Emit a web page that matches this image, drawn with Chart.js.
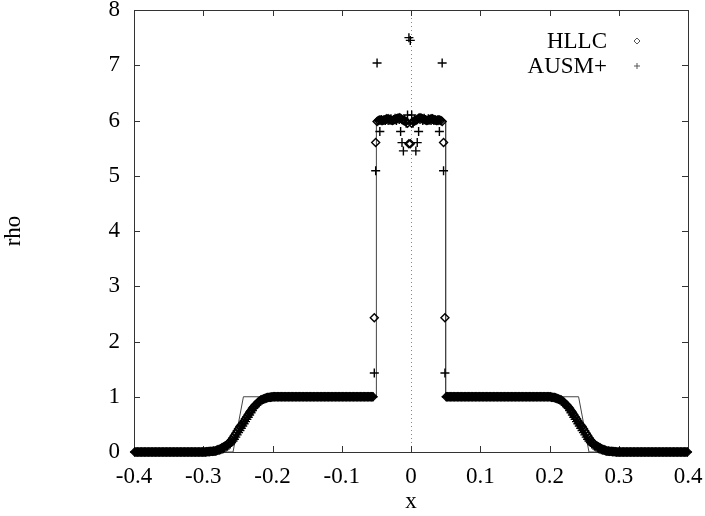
<!DOCTYPE html>
<html>
<head>
<meta charset="utf-8">
<script src="https://cdn.jsdelivr.net/npm/chart.js@4/dist/chart.umd.min.js"></script>
<style>
  html, body { margin: 0; padding: 0; background: #fff; }
  #wrap { width: 705px; height: 516px; }
</style>
</head>
<body>
<div id="wrap"><canvas id="rhoChart" width="705" height="516"></canvas></div>
<script>
// cell centres (dx = 0.002)
var xLeft = [
  -0.399, -0.397, -0.395, -0.393, -0.391, -0.389, -0.387, -0.385, -0.383, -0.381,
  -0.379, -0.377, -0.375, -0.373, -0.371, -0.369, -0.367, -0.365, -0.363, -0.361,
  -0.359, -0.357, -0.355, -0.353, -0.351, -0.349, -0.347, -0.345, -0.343, -0.341,
  -0.339, -0.337, -0.335, -0.333, -0.331, -0.329, -0.327, -0.325, -0.323, -0.321,
  -0.319, -0.317, -0.315, -0.313, -0.311, -0.309, -0.307, -0.305, -0.303, -0.301,
  -0.299, -0.297, -0.295, -0.293, -0.291, -0.289, -0.287, -0.285, -0.283, -0.281,
  -0.279, -0.277, -0.275, -0.273, -0.271, -0.269, -0.267, -0.265, -0.263, -0.261,
  -0.259, -0.257, -0.255, -0.253, -0.251, -0.249, -0.247, -0.245, -0.243, -0.241,
  -0.239, -0.237, -0.235, -0.233, -0.231, -0.229, -0.227, -0.225, -0.223, -0.221,
  -0.219, -0.217, -0.215, -0.213, -0.211, -0.209, -0.207, -0.205, -0.203, -0.201,
  -0.199, -0.197, -0.195, -0.193, -0.191, -0.189, -0.187, -0.185, -0.183, -0.181,
  -0.179, -0.177, -0.175, -0.173, -0.171, -0.169, -0.167, -0.165, -0.163, -0.161,
  -0.159, -0.157, -0.155, -0.153, -0.151, -0.149, -0.147, -0.145, -0.143, -0.141,
  -0.139, -0.137, -0.135, -0.133, -0.131, -0.129, -0.127, -0.125, -0.123, -0.121,
  -0.119, -0.117, -0.115, -0.113, -0.111, -0.109, -0.107, -0.105, -0.103, -0.101,
  -0.099, -0.097, -0.095, -0.093, -0.091, -0.089, -0.087, -0.085, -0.083, -0.081,
  -0.079, -0.077, -0.075, -0.073, -0.071, -0.069, -0.067, -0.065, -0.063, -0.061,
  -0.059
];
var xCore = [
  -0.057, -0.055, -0.053, -0.051, -0.049, -0.047, -0.045, -0.043, -0.041, -0.039,
  -0.037, -0.035, -0.033, -0.031, -0.029, -0.027, -0.025, -0.023, -0.021, -0.019,
  -0.017, -0.015, -0.013, -0.011, -0.009, -0.007, -0.005, -0.003, -0.001, 0.001,
  0.003, 0.005, 0.007, 0.009, 0.011, 0.013, 0.015, 0.017, 0.019, 0.021,
  0.023, 0.025, 0.027, 0.029, 0.031, 0.033, 0.035, 0.037, 0.039, 0.041,
  0.043, 0.045, 0.047, 0.049, 0.051, 0.053, 0.055, 0.057
];
var xRight = [
  0.059, 0.061, 0.063, 0.065, 0.067, 0.069, 0.071, 0.073, 0.075, 0.077,
  0.079, 0.081, 0.083, 0.085, 0.087, 0.089, 0.091, 0.093, 0.095, 0.097,
  0.099, 0.101, 0.103, 0.105, 0.107, 0.109, 0.111, 0.113, 0.115, 0.117,
  0.119, 0.121, 0.123, 0.125, 0.127, 0.129, 0.131, 0.133, 0.135, 0.137,
  0.139, 0.141, 0.143, 0.145, 0.147, 0.149, 0.151, 0.153, 0.155, 0.157,
  0.159, 0.161, 0.163, 0.165, 0.167, 0.169, 0.171, 0.173, 0.175, 0.177,
  0.179, 0.181, 0.183, 0.185, 0.187, 0.189, 0.191, 0.193, 0.195, 0.197,
  0.199, 0.201, 0.203, 0.205, 0.207, 0.209, 0.211, 0.213, 0.215, 0.217,
  0.219, 0.221, 0.223, 0.225, 0.227, 0.229, 0.231, 0.233, 0.235, 0.237,
  0.239, 0.241, 0.243, 0.245, 0.247, 0.249, 0.251, 0.253, 0.255, 0.257,
  0.259, 0.261, 0.263, 0.265, 0.267, 0.269, 0.271, 0.273, 0.275, 0.277,
  0.279, 0.281, 0.283, 0.285, 0.287, 0.289, 0.291, 0.293, 0.295, 0.297,
  0.299, 0.301, 0.303, 0.305, 0.307, 0.309, 0.311, 0.313, 0.315, 0.317,
  0.319, 0.321, 0.323, 0.325, 0.327, 0.329, 0.331, 0.333, 0.335, 0.337,
  0.339, 0.341, 0.343, 0.345, 0.347, 0.349, 0.351, 0.353, 0.355, 0.357,
  0.359, 0.361, 0.363, 0.365, 0.367, 0.369, 0.371, 0.373, 0.375, 0.377,
  0.379, 0.381, 0.383, 0.385, 0.387, 0.389, 0.391, 0.393, 0.395, 0.397,
  0.399
];

// HLLC density
var hllcLeft = [
  0, 0, 0, 0, 0, 0, 0, 0, 0, 0,
  0, 0, 0, 0, 0, 0, 0, 0, 0, 0,
  0, 0, 0, 0, 0, 0, 0, 0, 0, 0,
  0, 0, 0, 0, 0, 0, 0, 0, 0, 0,
  0, 0, 0, 0, 0, 0, 0, 0, 0, 0,
  0, 0, 0.005, 0.007, 0.01, 0.012, 0.015, 0.018, 0.02, 0.03,
  0.04, 0.05, 0.06, 0.075, 0.09, 0.105, 0.12, 0.14, 0.16, 0.19,
  0.22, 0.26, 0.30, 0.34, 0.38, 0.42, 0.46, 0.49, 0.52, 0.56,
  0.60, 0.64, 0.68, 0.72, 0.75, 0.79, 0.82, 0.85, 0.87, 0.90,
  0.92, 0.94, 0.95, 0.96, 0.97, 0.98, 0.985, 0.99, 0.99, 0.995,
  1, 1, 1, 1, 1, 1, 1, 1, 1, 1,
  1, 1, 1, 1, 1, 1, 1, 1, 1, 1,
  1, 1, 1, 1, 1, 1, 1, 1, 1, 1,
  1, 1, 1, 1, 1, 1, 1, 1, 1, 1,
  1, 1, 1, 1, 1, 1, 1, 1, 1, 1,
  1, 1, 1, 1, 1, 1, 1, 1, 1, 1,
  1, 1, 1, 1, 1, 1, 1, 1, 1, 1,
  1
];
var hllcCore = [
  1, 1, 2.43, 5.6, 5.98, 6.0, 6.01, 6.0, 6.0, 6.01,
  6.02, 6.03, 6.03, 6.02, 6.01, 6.0, 6.01, 6.02, 6.03, 6.04,
  6.05, 6.04, 6.02, 6.0, 5.99, 5.98, 5.95, 5.58, 5.58, 5.95,
  5.98, 5.99, 6.0, 6.02, 6.04, 6.05, 6.04, 6.03, 6.02, 6.01,
  6.0, 6.01, 6.02, 6.03, 6.03, 6.02, 6.01, 6.0, 6.0, 6.01,
  6.0, 5.98, 5.6, 2.43, 1, 1, 1, 1
];
var hllcRight = [
  1, 1, 1, 1, 1, 1, 1, 1, 1, 1,
  1, 1, 1, 1, 1, 1, 1, 1, 1, 1,
  1, 1, 1, 1, 1, 1, 1, 1, 1, 1,
  1, 1, 1, 1, 1, 1, 1, 1, 1, 1,
  1, 1, 1, 1, 1, 1, 1, 1, 1, 1,
  1, 1, 1, 1, 1, 1, 1, 1, 1, 1,
  1, 1, 1, 1, 1, 1, 1, 1, 1, 1,
  1, 1, 0.99, 0.99, 0.985, 0.98, 0.97, 0.96, 0.95, 0.94,
  0.92, 0.90, 0.87, 0.85, 0.82, 0.79, 0.75, 0.72, 0.68, 0.64,
  0.60, 0.56, 0.52, 0.49, 0.46, 0.42, 0.38, 0.34, 0.30, 0.26,
  0.22, 0.19, 0.16, 0.14, 0.12, 0.105, 0.09, 0.075, 0.06, 0.05,
  0.04, 0.03, 0.02, 0.018, 0.015, 0.012, 0.01, 0.007, 0.005, 0,
  0, 0, 0, 0, 0, 0, 0, 0, 0, 0,
  0, 0, 0, 0, 0, 0, 0, 0, 0, 0,
  0, 0, 0, 0, 0, 0, 0, 0, 0, 0,
  0, 0, 0, 0, 0, 0, 0, 0, 0, 0,
  0, 0, 0, 0, 0, 0, 0, 0, 0, 0,
  0
];

// AUSM+ density
var ausmLeft = [
  0, 0, 0, 0, 0, 0, 0, 0, 0, 0,
  0, 0, 0, 0, 0, 0, 0, 0, 0, 0,
  0, 0, 0, 0, 0, 0, 0, 0, 0, 0,
  0, 0, 0, 0, 0, 0, 0, 0, 0, 0,
  0, 0, 0, 0, 0, 0, 0, 0, 0, 0,
  0, 0, 0.003, 0.005, 0.006, 0.008, 0.01, 0.012, 0.015, 0.02,
  0.025, 0.032, 0.04, 0.05, 0.06, 0.075, 0.09, 0.105, 0.12, 0.145,
  0.17, 0.20, 0.23, 0.27, 0.31, 0.35, 0.39, 0.43, 0.47, 0.51,
  0.55, 0.59, 0.63, 0.67, 0.71, 0.75, 0.79, 0.82, 0.85, 0.88,
  0.9, 0.92, 0.94, 0.955, 0.965, 0.975, 0.98, 0.985, 0.99, 0.995,
  1, 1, 1, 1, 1, 1, 1, 1, 1, 1,
  1, 1, 1, 1, 1, 1, 1, 1, 1, 1,
  1, 1, 1, 1, 1, 1, 1, 1, 1, 1,
  1, 1, 1, 1, 1, 1, 1, 1, 1, 1,
  1, 1, 1, 1, 1, 1, 1, 1, 1, 1,
  1, 1, 1, 1, 1, 1, 1, 1, 1, 1,
  1, 1, 1, 1, 1, 1, 1, 1, 1, 1,
  1
];
var ausmCore = [
  1, 1, 1.43, 5.09, 7.04, 6.0, 5.8, 6.02, 6.0, 6.01,
  6.0, 6.02, 6.0, 6.01, 6.03, 6.0, 6.02, 6.04, 6.0, 6.03,
  6.02, 5.8, 5.6, 5.45, 6.02, 5.95, 6.1, 7.5, 7.45, 6.1,
  5.95, 6.02, 5.45, 5.6, 5.8, 6.02, 6.03, 6.0, 6.04, 6.02,
  6.0, 6.03, 6.01, 6.0, 6.02, 6.0, 6.01, 6.0, 6.02, 5.8,
  6.0, 7.04, 5.09, 1.43, 1, 1, 1, 1
];
var ausmRight = [
  1, 1, 1, 1, 1, 1, 1, 1, 1, 1,
  1, 1, 1, 1, 1, 1, 1, 1, 1, 1,
  1, 1, 1, 1, 1, 1, 1, 1, 1, 1,
  1, 1, 1, 1, 1, 1, 1, 1, 1, 1,
  1, 1, 1, 1, 1, 1, 1, 1, 1, 1,
  1, 1, 1, 1, 1, 1, 1, 1, 1, 1,
  1, 1, 1, 1, 1, 1, 1, 1, 1, 1,
  1, 1, 0.99, 0.985, 0.98, 0.975, 0.965, 0.955, 0.94, 0.92,
  0.9, 0.88, 0.85, 0.82, 0.79, 0.75, 0.71, 0.67, 0.63, 0.59,
  0.55, 0.51, 0.47, 0.43, 0.39, 0.35, 0.31, 0.27, 0.23, 0.20,
  0.17, 0.145, 0.12, 0.105, 0.09, 0.075, 0.06, 0.05, 0.04, 0.032,
  0.025, 0.02, 0.015, 0.012, 0.01, 0.008, 0.006, 0.005, 0.003, 0,
  0, 0, 0, 0, 0, 0, 0, 0, 0, 0,
  0, 0, 0, 0, 0, 0, 0, 0, 0, 0,
  0, 0, 0, 0, 0, 0, 0, 0, 0, 0,
  0, 0, 0, 0, 0, 0, 0, 0, 0, 0,
  0, 0, 0, 0, 0, 0, 0, 0, 0, 0,
  0
];

// exact solution (solid line)
var exactX   = [-0.4, -0.257, -0.242, -0.05, -0.05, 0.05, 0.05, 0.242, 0.257, 0.4];
var exactRho = [0, 0, 1, 1, 6, 6, 1, 1, 0, 0];

var xs = xLeft.concat(xCore, xRight);
var hllc = hllcLeft.concat(hllcCore, hllcRight);
var ausm = ausmLeft.concat(ausmCore, ausmRight);

function pts(xa, ya) {
  return xa.map(function (x, i) { return { x: x, y: ya[i] }; });
}

var INK = '#000';
var FONT = { family: "'Liberation Serif', 'Times New Roman', serif", size: 23 };

var gnuplotFrame = {
  id: 'gnuplotFrame',
  beforeDatasetsDraw: function (chart) {
    var ctx = chart.ctx, a = chart.chartArea;
    var sx = chart.scales.x, sy = chart.scales.y;
    function seg(x1, y1, x2, y2) { ctx.beginPath(); ctx.moveTo(x1, y1); ctx.lineTo(x2, y2); ctx.stroke(); }
    ctx.save();
    ctx.lineWidth = 1;
    // dotted zero axis
    var x0 = Math.round(sx.getPixelForValue(0)) + 0.5;
    ctx.strokeStyle = '#888';
    ctx.setLineDash([1, 3]);
    seg(x0, a.top, x0, a.bottom);
    ctx.setLineDash([]);
    // border
    ctx.strokeStyle = '#333';
    ctx.strokeRect(a.left + 0.5, a.top + 0.5, a.right - a.left, a.bottom - a.top);
    // inward ticks on all four sides
    sx.ticks.forEach(function (t) {
      var p = Math.round(sx.getPixelForValue(t.value)) + 0.5;
      seg(p, a.bottom, p, a.bottom - 6);
      seg(p, a.top, p, a.top + 6);
    });
    sy.ticks.forEach(function (t) {
      var p = Math.round(sy.getPixelForValue(t.value)) + 0.5;
      seg(a.left, p, a.left + 6, p);
      seg(a.right, p, a.right - 6, p);
    });
    ctx.restore();
  },
  afterDraw: function (chart) {
    // gnuplot style key: text right-aligned, symbol to its right
    var ctx = chart.ctx;
    var items = chart.data.datasets.filter(function (d) { return d.inKey; });
    ctx.save();
    ctx.font = FONT.size + 'px ' + FONT.family;
    ctx.textAlign = 'right';
    ctx.textBaseline = 'alphabetic';
    items.forEach(function (d, i) {
      var cy = 41 + 25 * i;
      ctx.fillStyle = '#000';
      ctx.fillText(d.label, 607, cy + 7);
      ctx.strokeStyle = '#555';
      ctx.lineWidth = 1;
      ctx.fillStyle = 'rgba(0,0,0,0)';
      Chart.helpers.drawPoint(ctx, { pointStyle: d.pointStyle, radius: 3, borderWidth: 1, rotation: 0 }, 637, cy);
    });
    ctx.restore();
  }
};

var rhoChart = new Chart(document.getElementById('rhoChart'), {
  type: 'scatter',
  data: {
    datasets: [
      {
        label: 'HLLC',
        inKey: true,
        data: pts(xs, hllc),
        showLine: false,
        pointStyle: 'rectRot',
        pointRadius: 4,
        pointHoverRadius: 4,
        borderWidth: 1.4,
        borderColor: INK,
        backgroundColor: 'rgba(0,0,0,0)',
        clip: false
      },
      {
        label: 'AUSM+',
        inKey: true,
        data: pts(xs, ausm),
        showLine: false,
        pointStyle: 'cross',
        pointRadius: 4.5,
        pointHoverRadius: 4.5,
        borderWidth: 1.4,
        borderColor: INK,
        backgroundColor: 'rgba(0,0,0,0)',
        clip: false
      },
      {
        label: 'exact',
        data: pts(exactX, exactRho),
        showLine: true,
        pointRadius: 0,
        borderWidth: 1,
        borderColor: '#444',
        backgroundColor: 'rgba(0,0,0,0)',
        clip: false
      }
    ]
  },
  options: {
    animation: false,
    responsive: false,
    layout: { padding: { left: 0, right: 17, top: 10, bottom: 0 } },
    plugins: {
      legend: { display: false },
      tooltip: { enabled: false }
    },
    scales: {
      x: {
        type: 'linear',
        min: -0.4,
        max: 0.4,
        grid: { display: false, drawTicks: false },
        border: { display: false },
        ticks: {
          stepSize: 0.1,
          padding: 11,
          color: '#000',
          font: FONT,
          maxRotation: 0,
          callback: function (v) { return String(Math.round(v * 10) / 10); }
        },
        title: { display: true, text: 'x', color: '#000', font: FONT, padding: { top: 0, bottom: 0 } },
        afterFit: function (s) { s.height = 64; s.paddingLeft = 0; s.paddingRight = 0; }
      },
      y: {
        type: 'linear',
        min: 0,
        max: 8,
        grid: { display: false, drawTicks: false },
        border: { display: false },
        ticks: { stepSize: 1, padding: 14, color: '#000', font: FONT },
        title: { display: true, text: 'rho', color: '#000', font: FONT, padding: { top: 0, bottom: 0 } },
        afterFit: function (s) { s.width = 134; s.paddingTop = 0; s.paddingBottom = 0; }
      }
    }
  },
  plugins: [gnuplotFrame]
});
</script>
</body>
</html>
